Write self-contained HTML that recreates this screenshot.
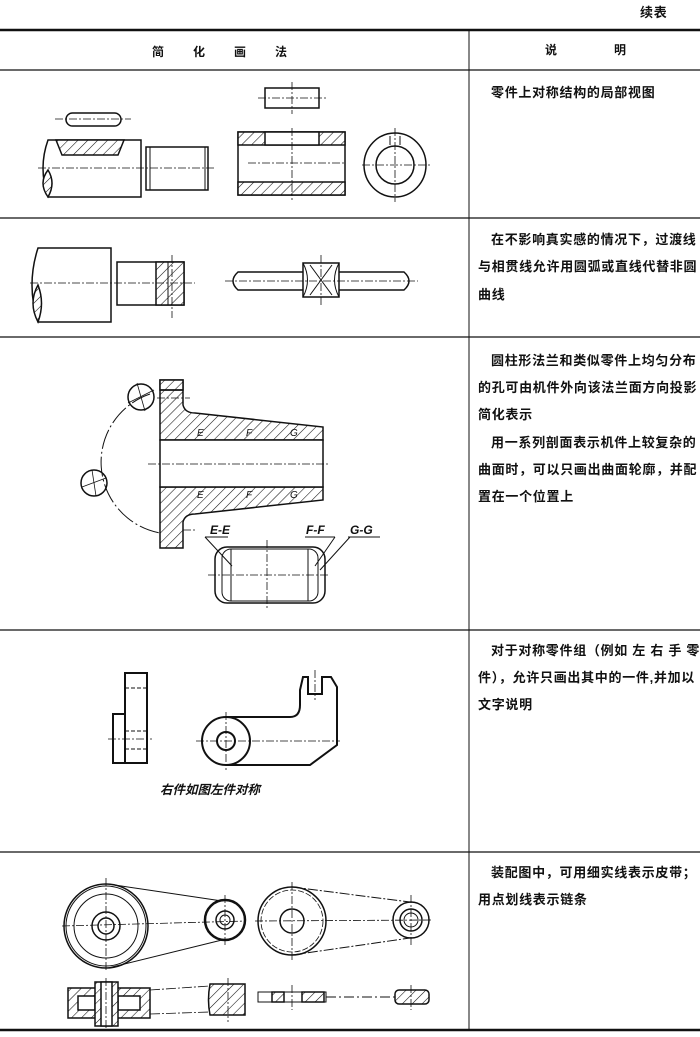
<!DOCTYPE html>
<html><head><meta charset="utf-8"><style>
html,body{margin:0;padding:0;background:#fff}
svg{display:block}
text{font-family:"Liberation Sans","Noto Sans CJK SC",sans-serif;fill:#111}
.t{font-size:13px;font-weight:bold;letter-spacing:0.7px}
</style></head><body>
<svg width="700" height="1037" viewBox="0 0 700 1037" xmlns="http://www.w3.org/2000/svg">
<defs>
<pattern id="h" width="7" height="7" patternUnits="userSpaceOnUse" patternTransform="rotate(45)">
<rect width="7" height="7" fill="#fff"/><line x1="0" y1="0" x2="0" y2="7" stroke="#111" stroke-width="1.1"/></pattern>
</defs>
<g stroke="#111" fill="none">
<!-- table lines -->
<line x1="0" y1="30" x2="700" y2="30" stroke-width="2.5"/>
<line x1="0" y1="70" x2="700" y2="70" stroke-width="1.3"/>
<line x1="0" y1="218" x2="700" y2="218" stroke-width="1.3"/>
<line x1="0" y1="337" x2="700" y2="337" stroke-width="1.3"/>
<line x1="0" y1="630" x2="700" y2="630" stroke-width="1.3"/>
<line x1="0" y1="852" x2="700" y2="852" stroke-width="1.3"/>
<line x1="0" y1="1030" x2="700" y2="1030" stroke-width="2.5"/>
<line x1="469" y1="30" x2="469" y2="1030" stroke-width="1"/>
</g>
<text x="640" y="17" class="t">续表</text>
<text x="152" y="56" class="t" style="font-size:12px">简</text>
<text x="193" y="56" class="t" style="font-size:12px">化</text>
<text x="234" y="56" class="t" style="font-size:12px">画</text>
<text x="275" y="56" class="t" style="font-size:12px">法</text>
<text x="545" y="54" class="t" style="font-size:12px">说</text>
<text x="614" y="54" class="t" style="font-size:12px">明</text>

<!-- row1 drawings -->
<g stroke="#111" stroke-width="1.5" fill="none">
<rect x="66" y="113" width="55" height="13" rx="6.5"/>
<path d="M48 140 L141 140 L141 197 L48 197 Q38 168 48 140Z"/>
<path d="M56 140 L62 155 L118 155 L124 140Z" fill="url(#h)"/>
<path d="M48 170 Q38 183 48 197 Q56 183 48 170Z" fill="url(#h)"/>
<rect x="146" y="147" width="62" height="43"/>
<line x1="150" y1="147" x2="150" y2="190" stroke-width="1"/>
<line x1="205" y1="147" x2="205" y2="190" stroke-width="1"/>
<rect x="265" y="88" width="54" height="20"/>
<rect x="238" y="132" width="107" height="63"/>
<rect x="238" y="132" width="107" height="13" fill="url(#h)"/>
<rect x="265" y="132" width="54" height="13" fill="#fff"/>
<rect x="238" y="182" width="107" height="13" fill="url(#h)"/>
<ellipse cx="395" cy="165" rx="31" ry="32"/>
<circle cx="395" cy="165" r="19"/>
<path d="M390 145 L390 136 M400 145 L400 136" stroke-width="1"/>
</g>
<g stroke="#111" stroke-width="0.8" fill="none" stroke-dasharray="8,2,2,2">
<line x1="55" y1="119" x2="131" y2="119"/>
<line x1="38" y1="168" x2="215" y2="168"/>
<line x1="258" y1="98" x2="326" y2="98"/>
<line x1="292" y1="82" x2="292" y2="114"/>
<line x1="248" y1="163" x2="345" y2="163"/>
<line x1="292" y1="128" x2="292" y2="200"/>
<line x1="362" y1="165" x2="432" y2="165"/>
<line x1="395" y1="128" x2="395" y2="202"/>
</g>
<text x="491" y="97" class="t">零件上对称结构的局部视图</text>

<!-- row2 -->
<g stroke="#111" stroke-width="1.5" fill="none">
<path d="M38 248 L111 248 L111 322 L38 322 Q26 285 38 248Z"/>
<path d="M38 285 Q28 303 38 322 Q45 303 38 285Z" fill="url(#h)"/>
<rect x="117" y="262" width="67" height="43"/>
<rect x="156" y="262" width="28" height="43" fill="url(#h)"/>
<line x1="168" y1="262" x2="168" y2="305" stroke-width="1"/>
<path d="M303 272 L238 272 Q228 281 238 290 L303 290 M339 272 L404 272 Q414 281 404 290 L339 290"/>
<path d="M303 263 L339 263 L339 297 L303 297Z"/>
<path d="M303 263 Q312 280 303 297 M339 263 Q330 280 339 297 M310 265 L332 295 M310 295 L332 265" stroke-width="1"/>
</g>
<g stroke="#111" stroke-width="0.8" fill="none" stroke-dasharray="8,2,2,2">
<line x1="30" y1="283" x2="195" y2="283"/>
<line x1="172" y1="255" x2="172" y2="318"/>
<line x1="225" y1="281" x2="418" y2="281"/>
<line x1="321" y1="255" x2="321" y2="305"/>
</g>
<text x="491" y="244" class="t">在不影响真实感的情况下，过渡线</text>
<text x="478" y="271" class="t">与相贯线允许用圆弧或直线代替非圆</text>
<text x="478" y="299" class="t">曲线</text>

<!-- row3 -->
<g stroke="#111" stroke-width="1.5" fill="none">
<path d="M160 380 L183 380 L183 405 Q185 413 195 413 L323 427 L323 440 L160 440Z" fill="url(#h)"/>
<path d="M160 487 L323 487 L323 500 L195 514 Q185 514 183 522 L183 548 L160 548Z" fill="url(#h)"/>
<path d="M160 440 L323 440 L323 487 L160 487Z" fill="#fff"/>
<rect x="160" y="380" width="23" height="10" fill="url(#h)"/>
<path d="M160 390 L183 390"/>
<path d="M150 394 A72 72 0 0 0 160 533" stroke-width="1" stroke-dasharray="20,3,2,3"/>
<circle cx="141" cy="397" r="13"/>
<circle cx="94" cy="483" r="13"/>
<line x1="128" y1="403" x2="154" y2="390" stroke-width="0.8"/>
<line x1="137" y1="383" x2="145" y2="411" stroke-width="0.8"/>
<line x1="82" y1="487" x2="106" y2="478" stroke-width="0.8"/>
<line x1="92" y1="470" x2="96" y2="496" stroke-width="0.8"/>
<rect x="215" y="547" width="110" height="56" rx="12"/>
<rect x="222" y="549" width="96" height="52" rx="9" stroke-width="1"/>
<line x1="231" y1="549" x2="231" y2="601" stroke-width="1"/>
<line x1="308" y1="549" x2="308" y2="601" stroke-width="1"/>
<path d="M205 537 L228 537 M205 537 L232 566 M305 537 L335 537 M335 537 L315 566 M348 537 L380 537 M350 537 L320 570" stroke-width="1"/>
</g>
<g stroke="#111" stroke-width="0.8" fill="none" stroke-dasharray="8,2,2,2">
<line x1="148" y1="464" x2="328" y2="464"/>
<line x1="157" y1="398" x2="190" y2="398"/>
<line x1="183" y1="530" x2="195" y2="530"/>
<line x1="208" y1="575" x2="330" y2="575"/>
<line x1="267" y1="540" x2="267" y2="610"/>
</g>
<g font-size="10" font-style="italic">
<text x="197" y="436">E</text><text x="246" y="436">F</text><text x="290" y="436">G</text>
<text x="197" y="498">E</text><text x="246" y="498">F</text><text x="290" y="498">G</text>
</g>
<text x="210" y="534" style="font-size:12px;font-weight:bold;font-style:italic">E-E</text>
<text x="306" y="534" style="font-size:12px;font-weight:bold;font-style:italic">F-F</text>
<text x="350" y="534" style="font-size:12px;font-weight:bold;font-style:italic">G-G</text>
<text x="491" y="365" class="t">圆柱形法兰和类似零件上均匀分布</text>
<text x="478" y="392" class="t">的孔可由机件外向该法兰面方向投影</text>
<text x="478" y="419" class="t">简化表示</text>
<text x="491" y="447" class="t">用一系列剖面表示机件上较复杂的</text>
<text x="478" y="474" class="t">曲面时，可以只画出曲面轮廓，并配</text>
<text x="478" y="501" class="t">置在一个位置上</text>

<!-- row4 -->
<g stroke="#111" stroke-width="2" fill="none">
<rect x="125" y="673" width="22" height="90"/>
<path d="M125 714 L113 714 L113 763 L125 763"/>
<path d="M125 688 L147 688 M125 731 L147 731 M125 749 L147 749" stroke-width="1" stroke-dasharray="4,2"/>
<circle cx="226" cy="741" r="24"/>
<circle cx="226" cy="741" r="9"/>
<path d="M226 717 L290 717 Q300 717 300 705 L300 690 L303 677 L308 677 L308 694 L322 694 L322 677 L331 677 L337 687 L337 745 L310 765 L226 765"/>
</g>
<g stroke="#111" stroke-width="0.8" fill="none" stroke-dasharray="8,2,2,2">
<line x1="108" y1="739" x2="152" y2="739"/>
<line x1="196" y1="741" x2="340" y2="741"/>
<line x1="226" y1="712" x2="226" y2="770"/>
<line x1="315" y1="670" x2="315" y2="700"/>
</g>
<text x="160" y="794" style="font-size:12.5px;font-weight:bold;font-style:italic">右件如图左件对称</text>
<text x="491" y="655" class="t">对于对称零件组（例如 左 右 手 零</text>
<text x="478" y="682" class="t">件），允许只画出其中的一件,并加以</text>
<text x="478" y="709" class="t">文字说明</text>

<!-- row5 -->
<g stroke="#111" stroke-width="1.5" fill="none">
<circle cx="106" cy="926" r="42"/>
<circle cx="106" cy="926" r="40" stroke-width="1"/>
<circle cx="106" cy="926" r="32" stroke-width="1"/>
<circle cx="106" cy="926" r="14"/>
<circle cx="106" cy="926" r="8"/>
<line x1="108" y1="884" x2="222" y2="901" stroke-width="1"/>
<line x1="108" y1="968" x2="222" y2="940" stroke-width="1"/>
<circle cx="225" cy="920" r="20" stroke-width="2.5"/>
<circle cx="225" cy="920" r="9"/>
<circle cx="225" cy="920" r="5" stroke-width="1"/>
<circle cx="292" cy="921" r="34"/>
<circle cx="292" cy="921" r="31" stroke-width="0.8" stroke-dasharray="6,2"/>
<circle cx="292" cy="921" r="12"/>
<line x1="292" y1="887" x2="410" y2="902" stroke-width="1" stroke-dasharray="10,2,2,2"/>
<line x1="292" y1="955" x2="410" y2="938" stroke-width="1" stroke-dasharray="10,2,2,2"/>
<circle cx="411" cy="920" r="18"/>
<circle cx="411" cy="920" r="11"/>
<circle cx="411" cy="920" r="7" stroke-width="1"/>
<path d="M68 988 L150 988 L150 1018 L68 1018Z" fill="url(#h)"/>
<path d="M78 996 L95 996 L95 1010 L78 1010Z M118 996 L140 996 L140 1010 L118 1010Z" fill="#fff"/>
<rect x="95" y="982" width="23" height="44" fill="url(#h)"/>
<rect x="101" y="982" width="11" height="44" fill="#fff"/>
<path d="M210 984 L245 984 L245 1015 L210 1015 Q207 1000 210 984Z" fill="url(#h)"/>
<line x1="150" y1="990" x2="210" y2="986" stroke-width="0.8" stroke-dasharray="10,2,2,2"/>
<line x1="150" y1="1014" x2="210" y2="1012" stroke-width="0.8" stroke-dasharray="10,2,2,2"/>
<rect x="258" y="992" width="68" height="10" stroke-width="1"/>
<rect x="272" y="992" width="12" height="10" fill="url(#h)"/>
<rect x="302" y="992" width="22" height="10" fill="url(#h)"/>
<rect x="395" y="990" width="34" height="14" rx="4" fill="url(#h)"/>
<line x1="326" y1="997" x2="395" y2="997" stroke-width="1" stroke-dasharray="10,3,2,3"/>
</g>
<g stroke="#111" stroke-width="0.8" fill="none" stroke-dasharray="8,2,2,2">
<line x1="62" y1="926" x2="246" y2="921"/>
<line x1="106" y1="878" x2="106" y2="972"/>
<line x1="225" y1="895" x2="225" y2="945"/>
<line x1="255" y1="921" x2="432" y2="920"/>
<line x1="292" y1="882" x2="292" y2="960"/>
<line x1="411" y1="895" x2="411" y2="945"/>
<line x1="106" y1="978" x2="106" y2="1030"/>
<line x1="228" y1="978" x2="228" y2="1022"/>
<line x1="292" y1="985" x2="292" y2="1010"/>
<line x1="411" y1="985" x2="411" y2="1010"/>
</g>
<text x="491" y="877" class="t">装配图中，可用细实线表示皮带；</text>
<text x="478" y="904" class="t">用点划线表示链条</text>
</svg>
</body></html>
